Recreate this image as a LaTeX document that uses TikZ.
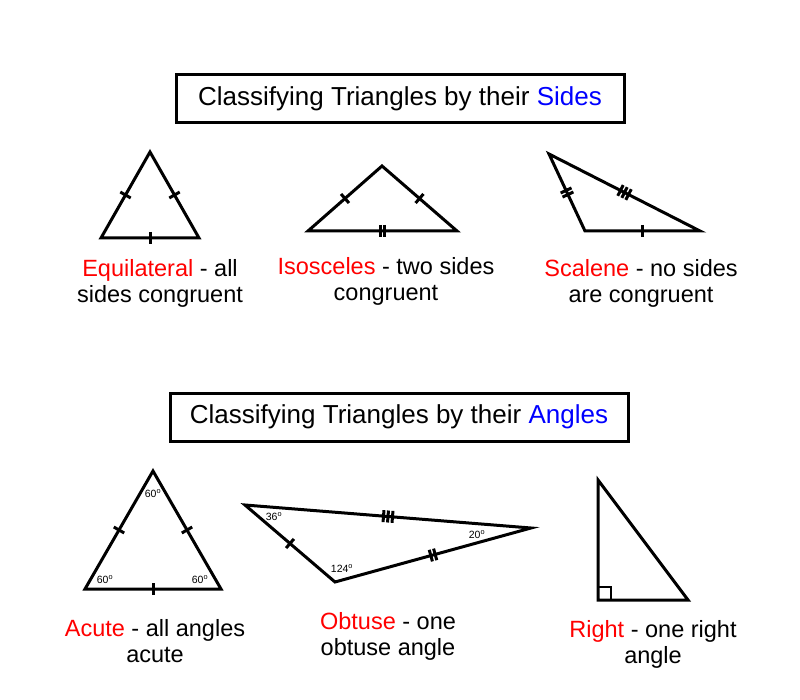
\documentclass[tikz,border=0pt]{standalone}
\usepackage{fontspec}
\setmainfont{Liberation Sans}
\usetikzlibrary{calc}

\tikzset{
  tri/.style={line width=3pt, line join=miter},
  tick/.style={line width=3pt},
  title/.style={draw, line width=3pt, minimum height=48pt, inner sep=0pt, font=\fontsize{26}{30}\selectfont},
  lbl/.style={align=center, font=\fontsize{23.5}{26}\selectfont},
  ang/.style={font=\fontsize{10.5}{12}\selectfont, inner sep=0pt}
}
\newcommand\sidemarks[3]{%
  \foreach \k in {1,...,#3}{%
    \pgfmathsetmacro\off{(\k-(#3+1)/2)*4.5}
    \coordinate (tk) at ($(#1)!0.5!(#2)$);
    \coordinate (tk) at ($(tk)!\off pt!(#2)$);
    \draw[tick] ($(tk)!6pt!90:(#2)$) -- ($(tk)!6pt!-90:(#2)$);
  }}
\newcommand\dg{\textsuperscript{o}}

\begin{document}
\begin{tikzpicture}[x=1pt,y=-1pt]
  \useasboundingbox (0,0) rectangle (800,700);
  \node[title, minimum width=448pt] (sides) at (400,99) {Classifying Triangles by their \textcolor{blue}{Sides}};
  \node[title, minimum width=458pt] (angles) at (399,417) {Classifying Triangles by their \textcolor{blue}{Angles}};

  \coordinate (e1) at (150,152);
  \coordinate (e2) at (101,238);
  \coordinate (e3) at (199,238);
  \draw[tri] (e1) -- (e2) -- (e3) -- cycle;
  \sidemarks{e1}{e2}{1}
  \sidemarks{e1}{e3}{1}
  \sidemarks{e2}{e3}{1}
  \node[lbl] (eq) at (160,283) {\textcolor{red}{Equilateral} - all\\sides congruent};

  \coordinate (i1) at (382,166);
  \coordinate (i2) at (308,231);
  \coordinate (i3) at (457,231);
  \draw[tri] (i1) -- (i2) -- (i3) -- cycle;
  \sidemarks{i1}{i2}{1}
  \sidemarks{i1}{i3}{1}
  \sidemarks{i2}{i3}{2}
  \node[lbl] (iso) at (386,281) {\textcolor{red}{Isosceles} - two sides\\congruent};

  \coordinate (s1) at (549,154);
  \coordinate (s2) at (585,231);
  \coordinate (s3) at (700,231);
  \draw[tri] (s1) -- (s2) -- (s3) -- cycle;
  \sidemarks{s1}{s2}{2}
  \sidemarks{s1}{s3}{3}
  \sidemarks{s2}{s3}{1}
  \node[lbl] (sca) at (641,283) {\textcolor{red}{Scalene} - no sides\\are congruent};

  \coordinate (a1) at (153,471);
  \coordinate (a2) at (85,589);
  \coordinate (a3) at (221,589);
  \draw[tri] (a1) -- (a2) -- (a3) -- cycle;
  \sidemarks{a1}{a2}{1}
  \sidemarks{a1}{a3}{1}
  \sidemarks{a2}{a3}{1}
  \node[ang] at (153,494) {60\dg};
  \node[ang] at (105,580) {60\dg};
  \node[ang] at (200,580) {60\dg};
  \node[lbl] (acu) at (155,641) {\textcolor{red}{Acute} - all angles\\acute};

  \coordinate (o1) at (245,505);
  \coordinate (o2) at (335,582);
  \coordinate (o3) at (531,528);
  \draw[tri] (o1) -- (o2) -- (o3) -- cycle;
  \sidemarks{o1}{o2}{1}
  \sidemarks{o1}{o3}{3}
  \sidemarks{o2}{o3}{2}
  \node[ang] at (274,517) {36\dg};
  \node[ang] at (342,569) {124\dg};
  \node[ang] at (477,535) {20\dg};
  \node[lbl] (obt) at (388,636) {\textcolor{red}{Obtuse} - one\\obtuse angle};

  \coordinate (r1) at (598,480);
  \coordinate (r2) at (598,600);
  \coordinate (r3) at (688,600);
  \draw[tri] (r1) -- (r2) -- (r3) -- cycle;
  \draw[line width=2.5pt] (598,587) -| (611,600);
  \node[lbl] (rgt) at (653,644) {\textcolor{red}{Right} - one right\\angle};
\end{tikzpicture}
\end{document}
